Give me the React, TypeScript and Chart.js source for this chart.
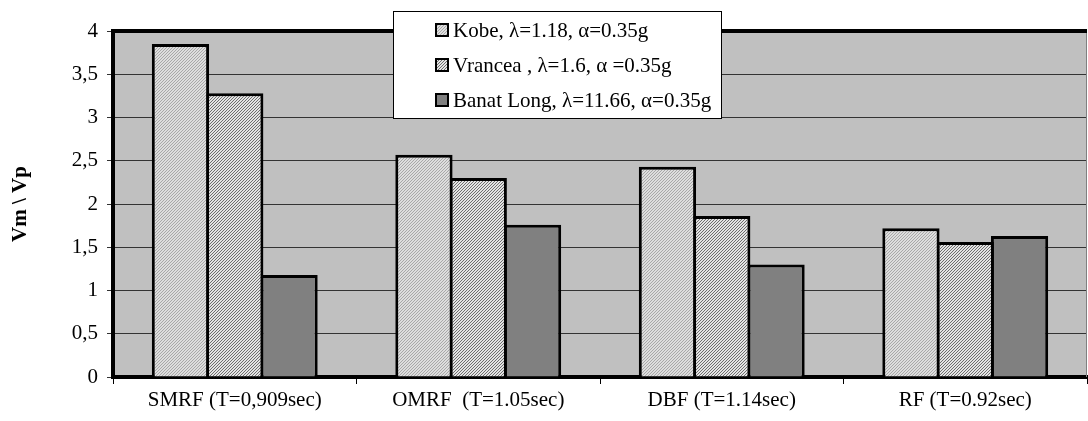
import React, { useEffect, useRef } from 'react';
import { Chart, registerables } from 'chart.js';

Chart.register(...registerables);

const categories = ['SMRF (T=0,909sec)', 'OMRF  (T=1.05sec)', 'DBF (T=1.14sec)', 'RF (T=0.92sec)'];
const seriesNames = [
  'Kobe, λ=1.18, α=0.35g',
  'Vrancea , λ=1.6, α =0.35g',
  'Banat Long, λ=11.66, α=0.35g',
];
const kobeValues = [3.85, 2.57, 2.43, 1.72];
const vranceaValues = [3.28, 2.3, 1.86, 1.56];
const banatValues = [1.18, 1.76, 1.3, 1.63];
const yTickValues = [0, 0.5, 1, 1.5, 2, 2.5, 3, 3.5, 4];
const yTickLabels = ['0', '0,5', '1', '1,5', '2', '2,5', '3', '3,5', '4'];
const yAxisTitle = 'Vm \\ Vp';

const FONT = '"Liberation Serif", "Times New Roman", serif';

function makePattern(base: string, line: string, period: number): CanvasPattern | string {
  const c = document.createElement('canvas');
  c.width = period;
  c.height = period;
  const g = c.getContext('2d');
  if (!g) return base;
  g.fillStyle = base;
  g.fillRect(0, 0, period, period);
  g.fillStyle = line;
  for (let x = 0; x < period; x++) {
    for (let y = 0; y < period; y++) {
      if ((x + y) % period === 0) g.fillRect(x, y, 1, 1);
    }
  }
  const p = g.createPattern(c, 'repeat');
  return p || base;
}

const plotBgPlugin = {
  id: 'plotBg',
  beforeDraw(chart: any) {
    const { ctx, chartArea } = chart;
    ctx.save();
    ctx.fillStyle = '#c0c0c0';
    ctx.fillRect(chartArea.left, chartArea.top, chartArea.right - chartArea.left, chartArea.bottom - chartArea.top);
    ctx.restore();
  },
  afterDatasetsDraw(chart: any) {
    const { ctx, chartArea } = chart;
    ctx.save();
    ctx.strokeStyle = '#808080';
    ctx.lineWidth = 1;
    ctx.beginPath();
    ctx.moveTo(chartArea.right - 0.5, chartArea.top);
    ctx.lineTo(chartArea.right - 0.5, chartArea.bottom);
    ctx.stroke();
    ctx.strokeStyle = '#000';
    ctx.lineWidth = 4;
    ctx.beginPath();
    ctx.moveTo(chartArea.left - 2, chartArea.top);
    ctx.lineTo(chartArea.right, chartArea.top);
    ctx.stroke();
    ctx.restore();
  },
};

const boxLegendPlugin = {
  id: 'boxLegend',
  afterDraw(chart: any) {
    const ctx = chart.ctx;
    const datasets = chart.data.datasets;
    ctx.save();
    ctx.font = `21px ${FONT}`;
    const left = 393;
    const top = 11;
    const bottom = 118;
    const swatchX = 435;
    const textX = 453;
    const firstRow = 30;
    const rowH = 35;
    const maxW = Math.max(...datasets.map((d: any) => ctx.measureText(d.label).width));
    const right = Math.round(textX + maxW + 10);
    ctx.fillStyle = '#ffffff';
    ctx.fillRect(left, top, right - left, bottom - top);
    ctx.strokeStyle = '#000';
    ctx.lineWidth = 1;
    ctx.strokeRect(left + 0.5, top + 0.5, right - left, bottom - top);
    datasets.forEach((d: any, i: number) => {
      const cy = firstRow + i * rowH;
      ctx.fillStyle = d.backgroundColor;
      ctx.fillRect(swatchX, cy - 7, 14, 14);
      ctx.strokeStyle = '#000';
      ctx.lineWidth = 2;
      ctx.strokeRect(swatchX + 1, cy - 6, 12, 12);
      ctx.fillStyle = '#000';
      ctx.textBaseline = 'middle';
      ctx.textAlign = 'left';
      ctx.fillText(d.label, textX, cy + 1);
    });
    ctx.restore();
  },
};

export default function App() {
  const canvasRef = useRef<HTMLCanvasElement | null>(null);

  useEffect(() => {
    document.body.style.margin = '0';
    const canvas = canvasRef.current;
    if (!canvas) return;
    const kobeFill = makePattern('#dedede', '#a8a8a8', 3);
    const vranceaFill = makePattern('#e4e4e4', '#6e6e6e', 3);
    const banatFill = '#808080';

    const barCommon = {
      borderColor: '#000000',
      borderWidth: 3,
      borderSkipped: 'start' as const,
      categoryPercentage: 0.669,
      barPercentage: 1.055,
    };

    const chart = new Chart(canvas, {
      type: 'bar',
      data: {
        labels: categories,
        datasets: [
          { label: seriesNames[0], data: kobeValues, backgroundColor: kobeFill as any, ...barCommon },
          { label: seriesNames[1], data: vranceaValues, backgroundColor: vranceaFill as any, ...barCommon },
          { label: seriesNames[2], data: banatValues, backgroundColor: banatFill, ...barCommon },
        ],
      },
      options: {
        animation: false,
        responsive: false,
        maintainAspectRatio: false,
        layout: { padding: { top: 31, right: 1, left: 0, bottom: 0 } },
        plugins: {
          legend: { display: false },
          tooltip: { enabled: false },
        },
        scales: {
          x: {
            grid: {
              display: true,
              drawOnChartArea: false,
              drawTicks: true,
              tickLength: 7,
              color: '#000',
              offset: true,
            },
            border: { display: true, color: '#000', width: 4 },
            ticks: {
              color: '#000',
              font: { family: FONT, size: 21 },
              padding: 4,
              maxRotation: 0,
              autoSkip: false,
            },
            afterFit: (s: any) => {
              s.height = 44;
            },
          },
          y: {
            min: 0,
            max: 4,
            grid: {
              color: '#333333',
              lineWidth: 1,
              drawTicks: true,
              tickLength: 6,
            },
            border: { display: true, color: '#000', width: 4 },
            ticks: {
              color: '#000',
              font: { family: FONT, size: 21 },
              padding: 9,
              callback: (v: any) => {
                const idx = yTickValues.indexOf(Number(v));
                return idx >= 0 ? yTickLabels[idx] : '';
              },
            },
            afterBuildTicks: (s: any) => {
              s.ticks = yTickValues.map((v) => ({ value: v }));
            },
            title: {
              display: true,
              text: yAxisTitle,
              color: '#000',
              font: { family: FONT, size: 21, weight: 'bold' },
              padding: { top: 8, bottom: 0 },
            },
            afterFit: (s: any) => {
              s.width = 113;
            },
          },
        },
      },
      plugins: [plotBgPlugin, boxLegendPlugin],
    });
    return () => chart.destroy();
  }, []);

  return (
    <div style={{ width: 1088, height: 421, background: '#fff' }}>
      <canvas ref={canvasRef} width={1088} height={421} style={{ display: 'block' }} />
    </div>
  );
}
